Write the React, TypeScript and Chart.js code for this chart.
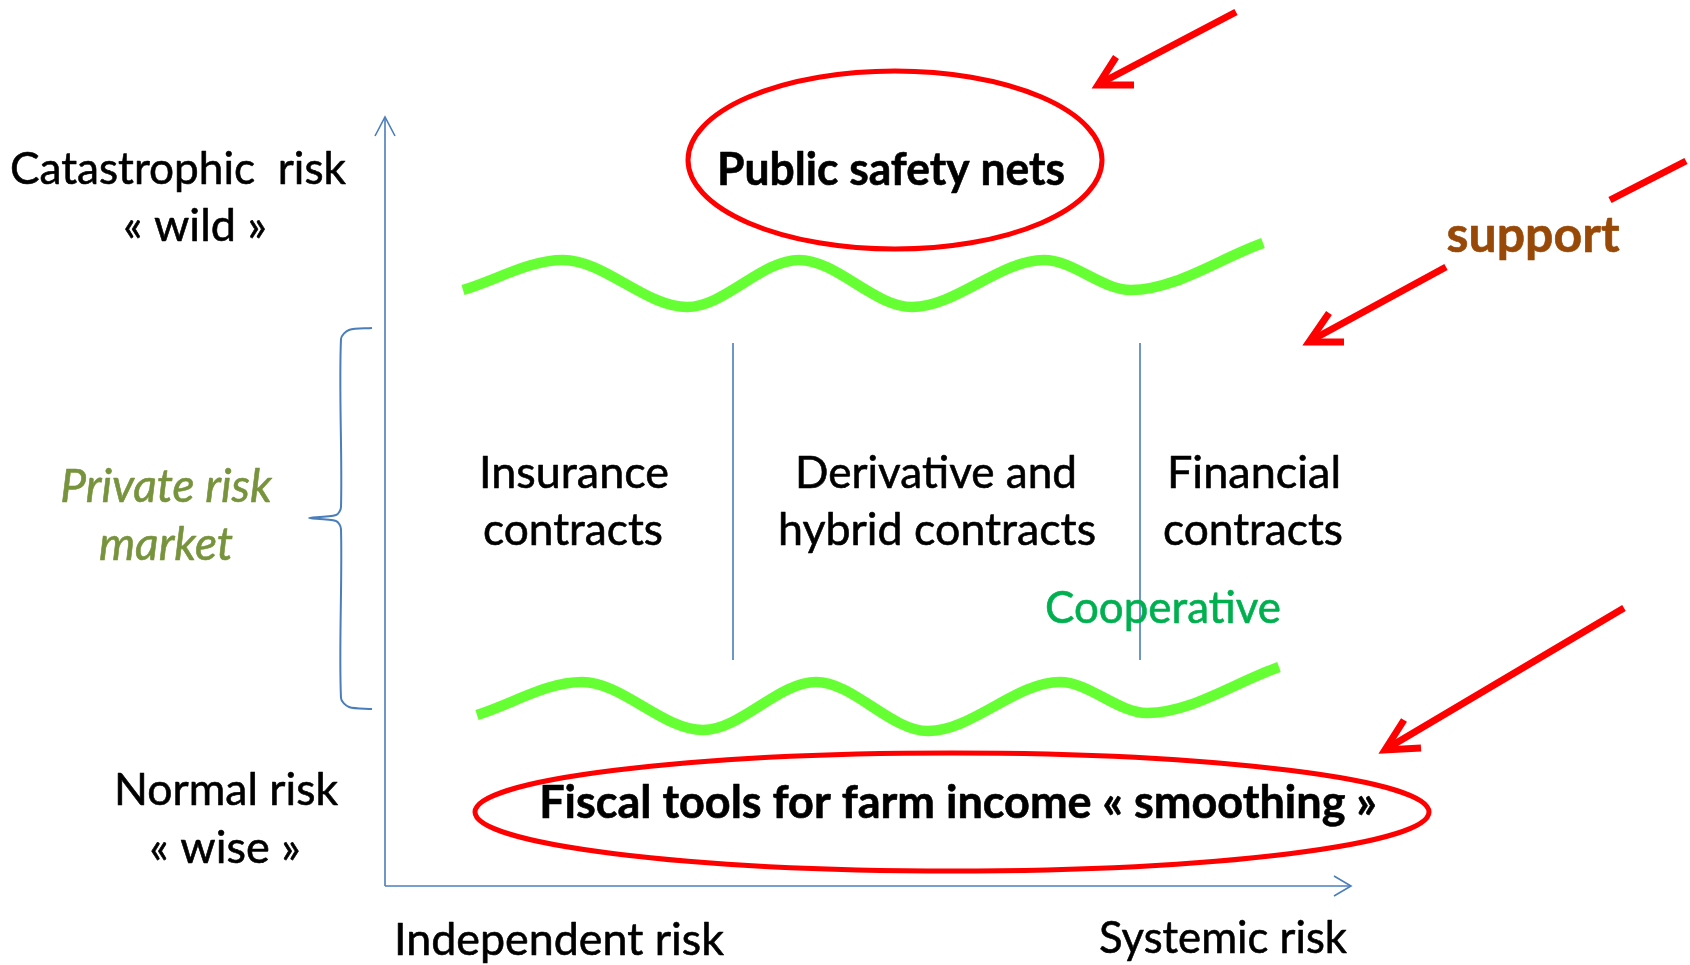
import React, { useEffect, useRef } from "react";
import { Chart, registerables } from "chart.js";

Chart.register(...registerables);

// ---- data (diagram coordinates, reference pixel space 1690 x 965) ----
const upperWaveX = [463, 563, 687, 799, 912, 1044, 1131, 1263];
const upperWaveY = [290, 260, 307, 260, 307, 260, 290, 243];
const lowerWaveX = [477, 582, 703, 816, 928, 1060, 1147, 1279];
const lowerWaveY = [715, 682, 730, 682, 731, 682, 713, 667];

const yAxisX = [385, 385];
const yAxisY = [886, 117];
const yHeadX = [375, 385, 395];
const yHeadY = [136, 117, 136];
const xAxisX = [385, 1351];
const xAxisY = [886, 886];
const xHeadX = [1334, 1351, 1334];
const xHeadY = [876, 886, 896];

const sep1X = [733, 733];
const sep2X = [1140, 1140];
const sepY = [343, 660];

const braceX = [372, 349, 341, 341, 336, 309, 336, 341, 341, 349, 372];
const braceY = [328, 330, 339, 507, 515, 518, 521, 529, 698, 707, 709];

// arrows: shaft [start, tip], head [barb1, tip, barb2]
const arrowShaftsX = [[1236, 1099], [1446, 1310], [1624, 1386], [1686, 1610]];
const arrowShaftsY = [[12, 84], [267, 341], [608, 749], [161, 200]];
const arrowHeadsX = [[1116, 1098, 1134], [1329, 1309, 1344], [1404, 1385, 1421]];
const arrowHeadsY = [[57, 85, 85], [313, 342, 342], [720, 750, 748]];

// ellipses: cx, cy, rx, ry
const ellipseCX = [895, 952];
const ellipseCY = [160, 812];
const ellipseRX = [207, 477];
const ellipseRY = [89, 59];

// labels
const labelTexts = [
  "Catastrophic  risk",
  "« wild »",
  "Private risk",
  "market",
  "Normal risk",
  "« wise »",
  "Independent risk",
  "Systemic risk",
  "Public safety nets",
  "support",
  "Insurance",
  "contracts",
  "Derivative and",
  "hybrid contracts",
  "Financial",
  "contracts",
  "Cooperative",
  "Fiscal tools for farm income « smoothing »",
];

// ---- layout / style ----
const W = 1690;
const H = 965;
const labelX = [178, 195, 166, 166, 226, 225, 559, 1223, 891, 1533, 574, 573, 936, 937, 1254, 1253, 1163, 958];
const labelY = [184, 241, 502, 560, 805, 863, 955, 953, 185, 252, 488, 545, 488, 545, 488, 545, 623, 818];
const labelMaxW = [336, 150, 216, 140, 224, 158, 330, 248, 348, 174, 190, 180, 282, 318, 174, 180, 236, 845];
const REG = "45px Lato";
const IT = "italic 46px Lato";
const BOLD = "bold 45px Lato";
const labelFont = [REG, REG, IT, IT, REG, REG, REG, REG,
  BOLD, "bold 50px Lato", REG, REG, REG, REG, REG, REG, "44px Lato", BOLD];
const BLACK = "#000000";
const labelColor = [BLACK, BLACK, "#77933C", "#77933C", BLACK, BLACK, BLACK, BLACK,
  BLACK, "#984807", BLACK, BLACK, BLACK, BLACK, BLACK, BLACK, "#00B050", BLACK];

const BLUE = "#4A7EBB";
const RED = "#FF0000";
const GREEN = "#66FF33";

const pts = (xs: number[], ys: number[]) => xs.map((x, i) => ({ x, y: ys[i] }));

const line = (xs: number[], ys: number[], color: string, width: number, extra: any = {}) => ({
  data: pts(xs, ys),
  showLine: true,
  borderColor: color,
  backgroundColor: color,
  borderWidth: width,
  pointRadius: 0,
  fill: false,
  ...extra,
});

const overlayPlugin = {
  id: "overlay",
  afterDatasetsDraw(chart: any) {
    const { ctx, scales } = chart;
    const sx = scales.x;
    const sy = scales.y;
    ctx.save();
    // ellipses
    ctx.strokeStyle = RED;
    ctx.lineWidth = 5;
    for (let i = 0; i < ellipseCX.length; i++) {
      const cx = sx.getPixelForValue(ellipseCX[i]);
      const cy = sy.getPixelForValue(ellipseCY[i]);
      const rx = Math.abs(sx.getPixelForValue(ellipseCX[i] + ellipseRX[i]) - cx);
      const ry = Math.abs(sy.getPixelForValue(ellipseCY[i] + ellipseRY[i]) - cy);
      ctx.beginPath();
      ctx.ellipse(cx, cy, rx, ry, 0, 0, Math.PI * 2);
      ctx.stroke();
    }
    // labels
    ctx.textAlign = "center";
    ctx.textBaseline = "alphabetic";
    ctx.lineJoin = "round";
    for (let i = 0; i < labelTexts.length; i++) {
      ctx.font = labelFont[i];
      ctx.fillStyle = labelColor[i];
      ctx.strokeStyle = labelColor[i];
      ctx.lineWidth = 0.6;
      const px = sx.getPixelForValue(labelX[i]);
      const py = sy.getPixelForValue(labelY[i]);
      ctx.fillText(labelTexts[i], px, py, labelMaxW[i]);
      ctx.strokeText(labelTexts[i], px, py, labelMaxW[i]);
    }
    ctx.restore();
  },
};

export default function App() {
  const ref = useRef<HTMLCanvasElement | null>(null);
  useEffect(() => {
    if (!ref.current) return;
    const datasets: any[] = [
      line(yAxisX, yAxisY, BLUE, 1.6),
      line(yHeadX, yHeadY, BLUE, 1.6),
      line(xAxisX, xAxisY, BLUE, 1.6),
      line(xHeadX, xHeadY, BLUE, 1.6),
      line(sep1X, sepY, BLUE, 1.6),
      line(sep2X, sepY, BLUE, 1.6),
      line(braceX, braceY, BLUE, 2, { tension: 0.3 }),
      line(upperWaveX, upperWaveY, GREEN, 10.5, { cubicInterpolationMode: "monotone" }),
      line(lowerWaveX, lowerWaveY, GREEN, 10.5, { cubicInterpolationMode: "monotone" }),
    ];
    arrowShaftsX.forEach((xs, i) => datasets.push(line(xs, arrowShaftsY[i], RED, 7)));
    arrowHeadsX.forEach((xs, i) =>
      datasets.push(line(xs, arrowHeadsY[i], RED, 7, { borderJoinStyle: "miter" }))
    );
    const chart = new Chart(ref.current, {
      type: "scatter",
      data: { datasets },
      options: {
        animation: false,
        responsive: false,
        maintainAspectRatio: false,
        layout: { padding: 0 },
        plugins: { legend: { display: false }, tooltip: { enabled: false } },
        scales: {
          x: { type: "linear", min: 0, max: W, display: false },
          y: { type: "linear", min: 0, max: H, reverse: true, display: false },
        },
      },
      plugins: [overlayPlugin],
    });
    return () => chart.destroy();
  }, []);
  return (
    <div style={{ position: "absolute", left: 0, top: 0, width: W, height: H, background: "#fff" }}>
      <canvas ref={ref} width={W} height={H} style={{ width: W, height: H, display: "block" }} />
    </div>
  );
}
